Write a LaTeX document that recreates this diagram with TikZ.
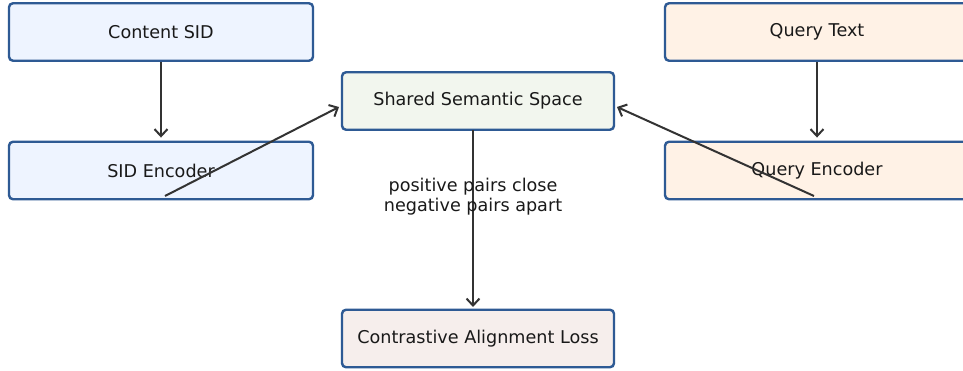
\documentclass[tikz,border=0pt]{standalone}
\usepackage{fontspec}
\setmainfont{DejaVu Sans}
\usetikzlibrary{arrows.meta,calc}
\definecolor{bordc}{HTML}{2E5A94}
\definecolor{blueF}{HTML}{EEF4FF}
\definecolor{greenF}{HTML}{F2F6EE}
\definecolor{redF}{HTML}{F6EEEC}
\definecolor{orangeF}{HTML}{FFF2E6}
\definecolor{arrc}{HTML}{333333}
\tikzset{
  box/.style={draw=bordc, line width=2.4pt, rounded corners=4pt, inner sep=0pt,
    minimum height=57.5pt, font=\fontsize{17.6}{21}\selectfont, text=black!90},
  widebox/.style={box, minimum width=304pt},
  midbox/.style={box, minimum width=272pt},
  conn/.style={draw=arrc, line width=2pt, -{Straight Barb[length=7pt,width=13pt,line width=2pt]}}
}
\begin{document}
\begin{tikzpicture}[x=1pt,y=-1pt]
\useasboundingbox (0,0) rectangle (963,371);
\fill[white] (0,0) rectangle (963,371);
\node[widebox, fill=blueF] (content) at (161,32) {Content SID};
\node[widebox, fill=blueF] (sidenc) at (161,170.5) {SID Encoder};
\node[midbox, fill=greenF] (shared) at (478,101) {Shared Semantic Space};
\node[midbox, fill=redF] (loss) at (478,338.5) {Contrastive Alignment Loss};
\node[widebox, fill=orangeF] (qtext) at (817,32) {Query Text};
\node[widebox, fill=orangeF] (qenc) at (817,170.5) {Query Encoder};
\coordinate (s1) at (165,196);
\coordinate (e1) at (339,107);
\coordinate (s2) at (814,196);
\coordinate (e2) at (617,107);
\coordinate (m1) at (473,130);
\coordinate (m2) at (473,307);
\draw[conn] (content.south) -- ($(sidenc.north)+(0,-3)$);
\draw[conn] (qtext.south) -- ($(qenc.north)+(0,-3)$);
\draw[conn] (s1) -- (e1);
\draw[conn] (s2) -- (e2);
\draw[conn] (m1) -- (m2);
\node[align=center, inner sep=0pt, font=\fontsize{17.6}{20}\selectfont, text=black!90] (lbl) at (473,197) {positive pairs close\\negative pairs apart};
\end{tikzpicture}
\end{document}
